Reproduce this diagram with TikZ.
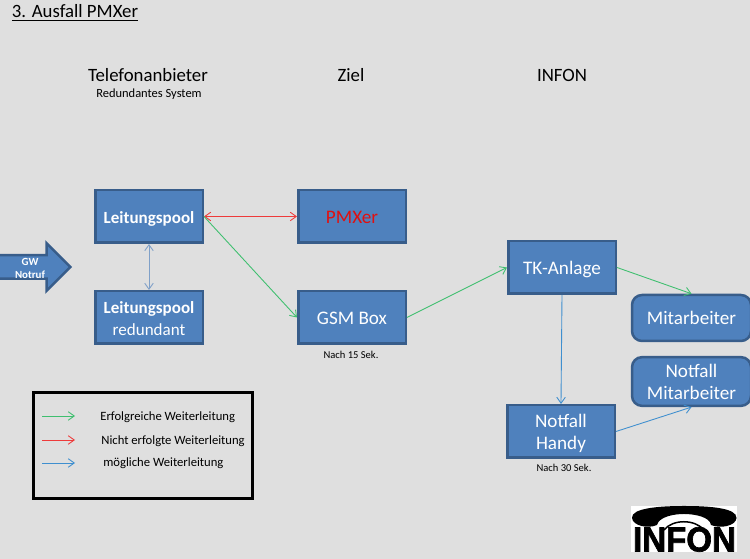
\documentclass[tikz,border=0pt]{standalone}
\usepackage{fontspec}
\setmainfont{Carlito}
\newfontfamily\logofont{Liberation Sans Bold}[FakeBold=2]
\usetikzlibrary{arrows.meta, shapes.arrows}
\definecolor{hinter}{HTML}{dfdfdf}
\definecolor{kasten}{HTML}{4f81bd}
\definecolor{rand}{HTML}{385d8a}
\definecolor{erfolg}{HTML}{3fbf6f}
\definecolor{fehler}{HTML}{ee3b3b}
\definecolor{moeglich}{HTML}{3f8fcf}
\definecolor{redund}{HTML}{7fa0c8}
\definecolor{pmx}{HTML}{e01010}
\tikzstyle{station}=[rectangle,
                             draw=rand,
                             line width=0.05cm,
                             fill=kasten,
                             text=white,
                             text centered,
                             align=center,
                             font=\fontsize{10.9}{13}\selectfont,
                             text height=0.27cm,
                             text depth=0cm,
                             minimum width=2.15cm,
                             minimum height=1.05cm
                            ]
\tikzstyle{twolines}=[text height=0.74cm]
\tikzstyle{person}=[station, rounded corners=0.2cm, minimum width=2.38cm, minimum height=0.92cm]
\tikzstyle{heading}=[font=\fontsize{10.7}{12}\selectfont, inner sep=0pt]
\tikzstyle{hint}=[font=\fontsize{6}{7}\selectfont, inner sep=0pt]
\tikzstyle{legend}=[font=\fontsize{7.2}{9}\selectfont, inner sep=0pt, anchor=west]
\tikzstyle{link}=[line width=0.5pt, -{Straight Barb[length=1.2mm,width=1.7mm]}]
\tikzstyle{both}=[line width=0.5pt, {Straight Barb[length=1.2mm,width=1.7mm]}-{Straight Barb[length=1.2mm,width=1.7mm]}]

\begin{document}
\begin{tikzpicture}
  \useasboundingbox (0cm, 0cm) rectangle (15cm, 11.18cm);
  \fill[hinter] (0cm, 0cm) rectangle (15cm, 11.18cm);

  \node at (1.5cm, 10.92cm) (title) [inner sep=0pt, font=\fontsize{10.7}{12}\selectfont] {\underline{3. Ausfall PMXer}};
  \node at (2.96cm, 9.68cm) (h1) [heading] {Telefonanbieter};
  \node at (7.02cm, 9.68cm) (h2) [heading] {Ziel};
  \node at (11.24cm, 9.68cm) (h3) [heading] {INFON};
  \node at (2.98cm, 9.3cm) (h1sub) [heading, font=\fontsize{7.1}{9}\selectfont] {Redundantes System};

  \node at (2.98cm, 6.85cm) (pool) [station, font=\fontsize{9.7}{12.6}\selectfont] {\textbf{Leitungspool}};
  \node at (2.98cm, 4.83cm) (red) [station, twolines, font=\fontsize{9.7}{12.6}\selectfont] {\textbf{Leitungspool}\\redundant};
  \node at (7.04cm, 6.85cm) (pmx) [station, text=pmx] {PMXer};
  \node at (7.04cm, 4.83cm) (gsm) [station] {GSM Box};
  \node at (11.24cm, 5.83cm) (tk) [station] {TK-Anlage};
  \node at (11.22cm, 2.55cm) (handy) [station, twolines] {Notfall\\Handy};
  \node at (13.83cm, 4.82cm) (ma) [person] {Mitarbeiter};
  \node at (13.83cm, 3.55cm) (nma) [person, twolines] {Notfall\\Mitarbeiter};

  \node at (7.02cm, 4.08cm) (t15) [hint] {Nach 15 Sek.};
  \node at (11.28cm, 1.82cm) (t30) [hint] {Nach 30 Sek.};

  % Eingang von links
  \node at (0.55cm, 5.84cm) (gw) [single arrow, draw=rand, line width=0.05cm, fill=kasten,
    inner sep=0pt, single arrow head extend=0.24cm, minimum width=0.9cm, minimum height=1.48cm,
    text height=0.42cm, text depth=0cm] {};
  \node at (0.6cm, 5.82cm) (gwtext) [inner sep=0pt, align=center, text=white,
    font=\fontsize{6.2}{7.4}\selectfont\bfseries] {GW\\Notruf};

  \draw[both, color=fehler] (pool.east) -- (pmx.west);
  \draw[both, color=redund] (pool.south) -- (red.north);
  \draw[link, color=erfolg] (pool.east) -- (gsm.west);
  \draw[link, color=erfolg] (gsm.east) -- (tk.west);
  \draw[link, color=erfolg] (tk.east) -- (ma.north);
  \draw[link, color=moeglich] (tk.south) -- (handy.north);
  \draw[link, color=moeglich] (handy.east) -- (nma.south);

  % Legende
  \node at (2.85cm, 2.27cm) (box) [rectangle, draw=black, line width=0.06cm, minimum width=4.38cm, minimum height=2.12cm] {};
  \coordinate (l1) at (0.84cm, 2.86cm);
  \coordinate (l2) at (0.84cm, 2.38cm);
  \coordinate (l3) at (0.84cm, 1.92cm);
  \node at (2cm, 2.84cm) (t1) [legend] {Erfolgreiche Weiterleitung};
  \node at (2.02cm, 2.36cm) (t2) [legend] {Nicht erfolgte Weiterleitung};
  \node at (2.06cm, 1.91cm) (t3) [legend] {mögliche Weiterleitung};
  \draw[link, color=erfolg] (l1) -- ++(0.66cm, 0cm);
  \draw[link, color=fehler] (l2) -- ++(0.66cm, 0cm);
  \draw[link, color=moeglich] (l3) -- ++(0.66cm, 0cm);

  % Logo
  \fill[white] (12.62cm, 0.14cm) rectangle (14.74cm, 1.06cm);
  \fill[black] (12.64cm, 0.82cm) .. controls (12.62cm, 1.02cm) and (13.2cm, 1.06cm) .. (13.68cm, 1.06cm)
    .. controls (14.2cm, 1.06cm) and (14.74cm, 1.02cm) .. (14.73cm, 0.82cm)
    .. controls (14.72cm, 0.66cm) and (14.4cm, 0.6cm) .. (14.22cm, 0.68cm)
    .. controls (14.2cm, 0.84cm) and (13.9cm, 0.9cm) .. (13.68cm, 0.9cm)
    .. controls (13.46cm, 0.9cm) and (13.18cm, 0.84cm) .. (13.14cm, 0.68cm)
    .. controls (12.96cm, 0.6cm) and (12.66cm, 0.66cm) .. (12.64cm, 0.82cm) -- cycle;
  \draw[black, line width=0.03cm] (13.28cm, 0.58cm) .. controls (13.45cm, 0.8cm) and (13.9cm, 0.8cm) .. (14.08cm, 0.58cm);
  \node at (13.69cm, 0.39cm) (logo) [inner sep=0pt, xscale=0.95, font=\logofont\fontsize{19.8}{20}\selectfont] {INFON};
\end{tikzpicture}
\end{document}
